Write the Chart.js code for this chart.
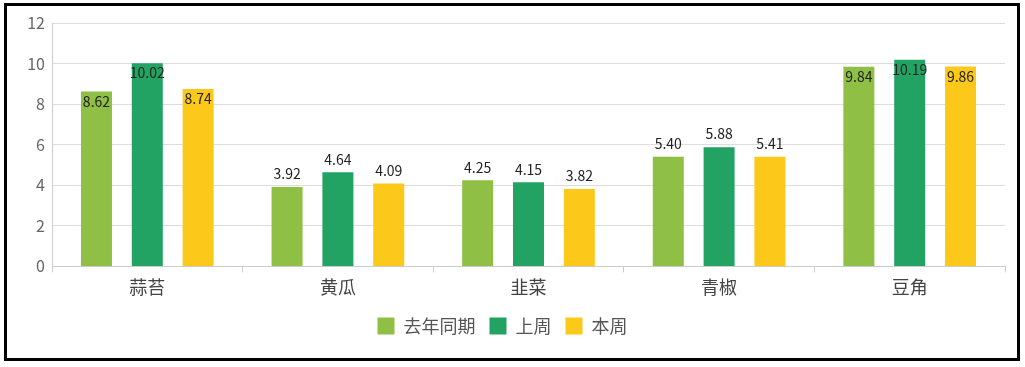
<!DOCTYPE html>
<html lang="zh">
<head>
    <meta charset="UTF-8">
    <title>蔬菜价格对比</title>
    <script src="https://cdn.jsdelivr.net/npm/chart.js"></script>
    <style>
        body { margin: 0; background: #fff; }
        #wrap { position: relative; width: 1025px; height: 367px; }
        #frame {
            position: absolute; left: 4px; top: 3px; width: 1010px; height: 352px;
            border: 3px solid #000; pointer-events: none;
        }
    </style>
</head>
<body>
    <div id="wrap">
        <canvas id="vegChart" width="1025" height="367"></canvas>
        <div id="frame"></div>
    </div>

    <script>
        // 数据
        let categories = ["蒜苔", "黄瓜", "韭菜", "青椒", "豆角"];
        let lastYear = [8.62, 3.92, 4.25, 5.40, 9.84];
        let lastWeek = [10.02, 4.64, 4.15, 5.88, 10.19];
        let thisWeek = [8.74, 4.09, 3.82, 5.41, 9.86];
        let seriesNames = ["去年同期", "上周", "本周"];
        let seriesColors = ["#8fbf45", "#22a363", "#fcc91a"];
        let yTicks = [0, 2, 4, 6, 8, 10, 12];

        let fontFamily = "'Noto Sans CJK SC', 'Noto Sans', sans-serif";

        // 柱子上的数值标签：高的柱子写在里面，矮的写在上方
        let barLabels = {
            id: "barLabels",
            afterDatasetsDraw(chart) {
                let c = chart.ctx;
                c.save();
                c.font = "14px " + fontFamily;
                c.fillStyle = "#222";
                c.textAlign = "center";
                chart.data.datasets.forEach((ds, i) => {
                    chart.getDatasetMeta(i).data.forEach((bar, j) => {
                        let v = ds.data[j];
                        if (v >= 7) {
                            c.textBaseline = "top";
                            c.fillText(v.toFixed(2), bar.x, bar.y + 3);
                        } else {
                            c.textBaseline = "bottom";
                            c.fillText(v.toFixed(2), bar.x, bar.y - 6);
                        }
                    });
                });
                c.restore();
            }
        };

        let ctx = document.getElementById("vegChart").getContext("2d");

        let chart = new Chart(ctx, {
            type: "bar",
            data: {
                labels: categories,
                datasets: [
                    { label: seriesNames[0], data: lastYear, backgroundColor: seriesColors[0] },
                    { label: seriesNames[1], data: lastWeek, backgroundColor: seriesColors[1] },
                    { label: seriesNames[2], data: thisWeek, backgroundColor: seriesColors[2] }
                ]
            },
            options: {
                responsive: false,
                animation: false,
                layout: { padding: { left: 0, right: 20, top: 23, bottom: 22 } },
                datasets: {
                    bar: { categoryPercentage: 0.8, barPercentage: 0.61 }
                },
                plugins: {
                    legend: {
                        position: "bottom",
                        labels: {
                            boxWidth: 17,
                            boxHeight: 17,
                            color: "#555",
                            font: { size: 18, family: fontFamily },
                            padding: 14
                        }
                    },
                    tooltip: { enabled: false }
                },
                scales: {
                    x: {
                        afterFit(scale) { scale.height += 1; },
                        grid: { drawOnChartArea: false, tickLength: 6, color: "#ccc" },
                        border: { color: "#ccc" },
                        ticks: { color: "#444", font: { size: 18, family: fontFamily }, padding: 4 }
                    },
                    y: {
                        min: 0,
                        max: 12,
                        afterFit(scale) { scale.width = 52; },
                        afterBuildTicks(scale) { scale.ticks = yTicks.map(v => ({ value: v })); },
                        grid: { color: "#ddd", drawTicks: false },
                        border: { color: "#ccc" },
                        ticks: { color: "#666", font: { size: 16, family: fontFamily }, padding: 7 }
                    }
                }
            },
            plugins: [barLabels]
        });
    </script>
</body>
</html>
